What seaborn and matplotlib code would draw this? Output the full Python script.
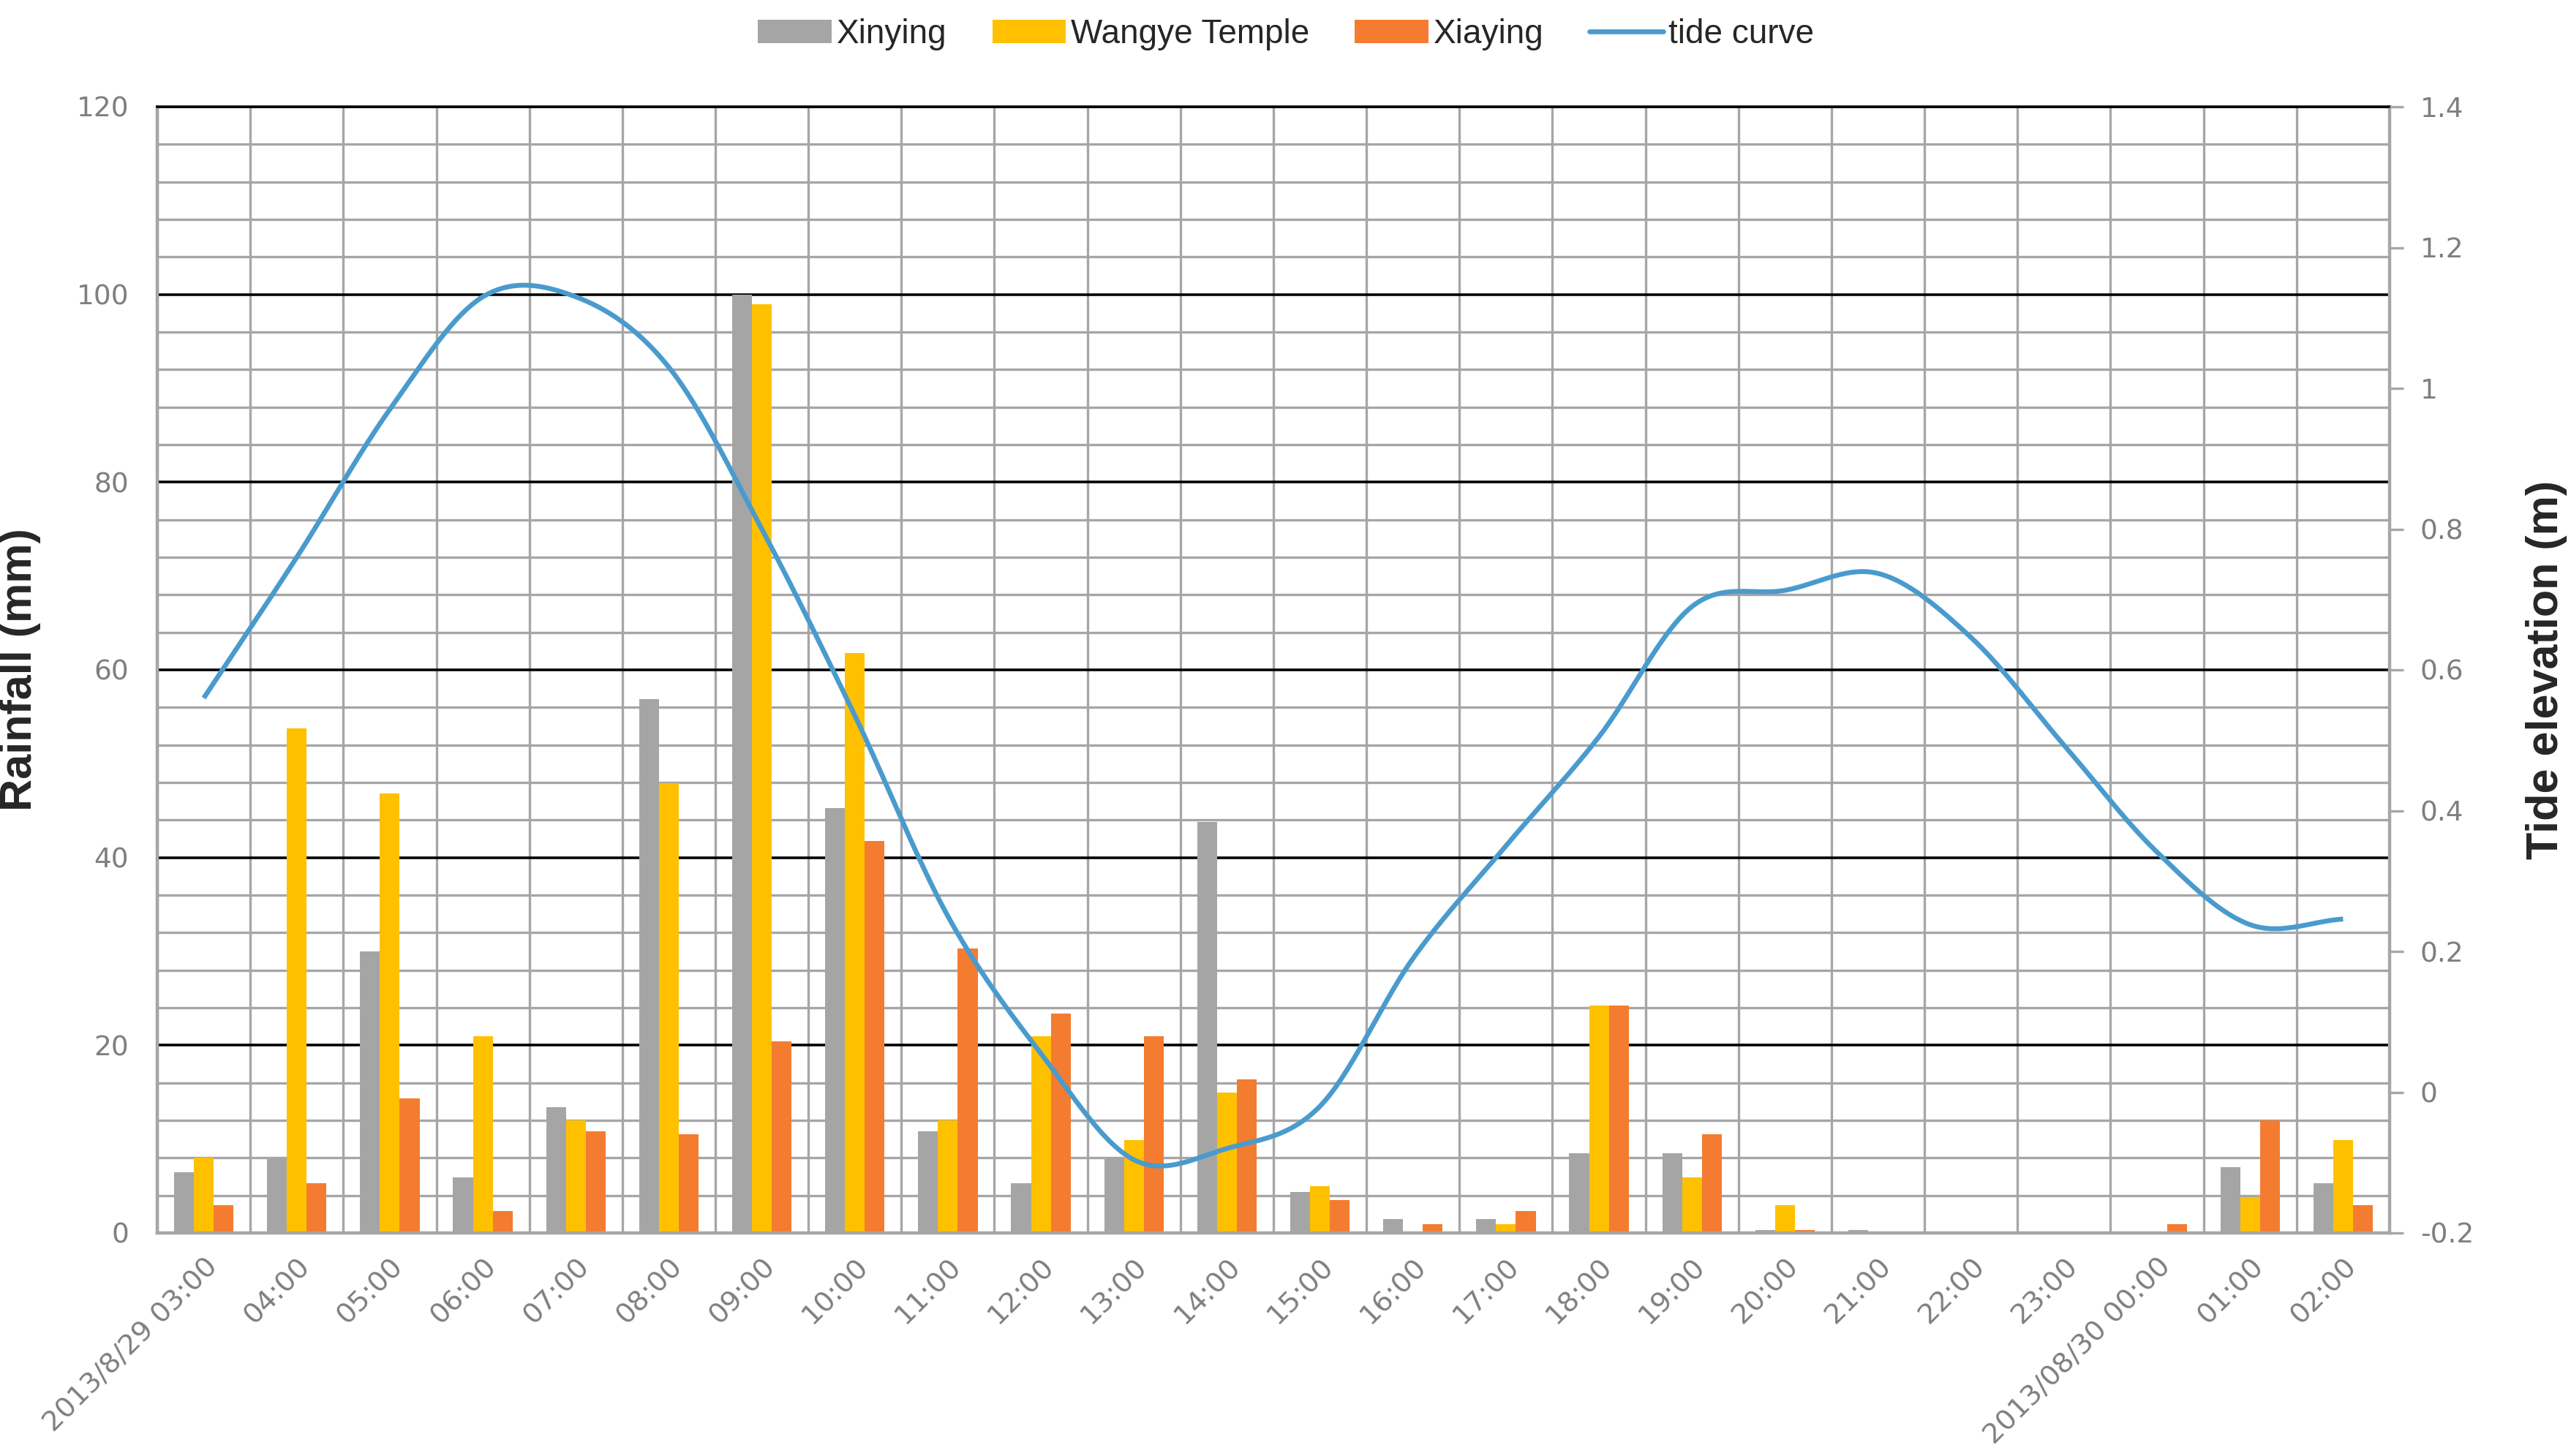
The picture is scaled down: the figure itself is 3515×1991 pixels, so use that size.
import numpy as np
import pandas as pd
import matplotlib
matplotlib.use("Agg")
import matplotlib.pyplot as plt
from matplotlib.ticker import MultipleLocator, FixedLocator
from matplotlib.patches import Patch
from matplotlib.lines import Line2D
import seaborn as sns

# ---------------- data ----------------
times = ["2013/8/29 03:00", "04:00", "05:00", "06:00", "07:00", "08:00", "09:00",
         "10:00", "11:00", "12:00", "13:00", "14:00", "15:00", "16:00", "17:00",
         "18:00", "19:00", "20:00", "21:00", "22:00", "23:00", "2013/08/30 00:00",
         "01:00", "02:00"]
xinying = [6.5, 8.0, 30.0, 5.9, 13.4, 56.9, 100.0, 45.3, 10.8, 5.3, 8.0, 43.8,
           4.4, 1.5, 1.5, 8.5, 8.5, 0.3, 0.3, 0, 0, 0, 7.0, 5.3]
wangye = [8.0, 53.8, 46.8, 21.0, 12.0, 47.9, 99.0, 61.8, 12.0, 21.0, 9.9, 15.0,
          5.0, 0, 0.9, 24.2, 5.9, 3.0, 0, 0, 0, 0, 3.8, 9.9]
xiaying = [3.0, 5.3, 14.3, 2.3, 10.8, 10.5, 20.4, 41.8, 30.3, 23.4, 21.0, 16.4,
           3.5, 0.9, 2.3, 24.2, 10.5, 0.3, 0, 0, 0, 0.9, 12.0, 3.0]
tide = [0.56, 0.76, 0.97, 1.13, 1.13, 1.03, 0.80, 0.535, 0.25, 0.055, -0.096,
        -0.08, -0.02, 0.19, 0.35, 0.505, 0.69, 0.713, 0.737, 0.646, 0.493,
        0.341, 0.238, 0.246]
stations = ["Xinying", "Wangye Temple", "Xiaying"]
colors = ["#A5A5A5", "#FFC000", "#F47C30"]
line_color = "#4A9BCD"

df = pd.DataFrame({
    "time": times * 3,
    "rain": xinying + wangye + xiaying,
    "station": [stations[0]] * len(times) + [stations[1]] * len(times) + [stations[2]] * len(times),
})

# ---------------- figure ----------------
sns.set_theme(style="white")
plt.rcParams["font.family"] = ["DejaVu Sans"]
LABEL_FONT = ["Liberation Sans", "DejaVu Sans"]
DPI = 200
fig = plt.figure(figsize=(3516 / DPI, 1991 / DPI), dpi=DPI)
ax = fig.add_axes([215 / 3516, 1 - 1686 / 1991, (3267 - 215) / 3516, (1686 - 146) / 1991])

sns.barplot(data=df, x="time", y="rain", hue="station", order=times,
            hue_order=stations, palette=colors, width=0.64, gap=0,
            saturation=1, ax=ax, legend=False, errorbar=None, linewidth=0)

n = len(times)
ax.set_xlim(-0.5, n - 0.5)
ax.set_ylim(0, 120)
ax.set_axisbelow(True)
ax.yaxis.set_major_locator(MultipleLocator(20))
ax.yaxis.set_minor_locator(MultipleLocator(4))
ax.xaxis.set_minor_locator(FixedLocator(np.arange(-0.5, n, 1.0)))
ax.grid(which="minor", axis="y", color="#A6A6A6", lw=1.2)
ax.grid(which="major", axis="y", color="black", lw=1.3)
ax.grid(which="minor", axis="x", color="#A6A6A6", lw=1.2)
ax.grid(which="major", axis="x", visible=False)

ax.set_xlabel("")
ax.set_ylabel("Rainfall (mm)", fontsize=22, fontweight="bold", family=LABEL_FONT)
ax.yaxis.set_label_coords(-0.052, 0.5)
ax.tick_params(axis="y", which="both", length=0, labelsize=13.5,
               labelcolor="#7F7F7F", pad=14)
ax.tick_params(axis="x", which="both", length=0, labelsize=13.8,
               labelcolor="#7F7F7F", pad=10)
ax.set_xticks(range(n))
ax.set_xticklabels(times, rotation=45, ha="right", rotation_mode="anchor")

for side in ["left", "bottom", "right"]:
    ax.spines[side].set_color("#A6A6A6")
    ax.spines[side].set_linewidth(1.6)
ax.spines["top"].set_color("black")
ax.spines["top"].set_linewidth(1.3)

# ---------------- tide curve (secondary axis) ----------------
ax2 = ax.twinx()
ax2.set_ylim(-0.2, 1.4)
ax2.set_yticks(np.round(np.arange(-0.2, 1.41, 0.2), 1))
ax2.set_yticklabels(["-0.2", "0", "0.2", "0.4", "0.6", "0.8", "1", "1.2", "1.4"])
ax2.tick_params(axis="y", length=7, width=1.2, color="#A6A6A6", labelsize=13.5,
                labelcolor="#7F7F7F", pad=8, direction="out")
for side in ["left", "bottom", "top", "right"]:
    ax2.spines[side].set_visible(False)
ax2.set_ylabel("Tide elevation (m)", fontsize=22, fontweight="bold",
               family=LABEL_FONT, rotation=90)
ax2.yaxis.set_label_coords(1.061, 0.5)
ax2.grid(False)

# smooth (Catmull-Rom) rendering through the hourly tide points
xs = np.arange(n, dtype=float)
ys = np.asarray(tide, dtype=float)
ext = np.concatenate([[2 * ys[0] - ys[1]], ys, [2 * ys[-1] - ys[-2]]])
sx, sy = [], []
tt = np.linspace(0, 1, 30, endpoint=False)
for i in range(n - 1):
    p0, p1, p2, p3 = ext[i], ext[i + 1], ext[i + 2], ext[i + 3]
    m1 = (p2 - p0) / 2
    m2 = (p3 - p1) / 2
    h00 = 2 * tt**3 - 3 * tt**2 + 1
    h10 = tt**3 - 2 * tt**2 + tt
    h01 = -2 * tt**3 + 3 * tt**2
    h11 = tt**3 - tt**2
    sy.extend(h00 * p1 + h10 * m1 + h01 * p2 + h11 * m2)
    sx.extend(xs[i] + tt)
sx.append(xs[-1]); sy.append(ys[-1])
ax2.plot(sx, sy, color=line_color, lw=2.4, solid_capstyle="butt")
ax2.set_xlim(-0.5, n - 0.5)

# ---------------- legend ----------------
handles = [Patch(facecolor=c, edgecolor="none") for c in colors]
handles.append(Line2D([0], [0], color=line_color, lw=2.4))
fig.legend(handles, stations + ["tide curve"], loc="center", ncol=4,
           bbox_to_anchor=(0.5, 1 - 47 / 1991), frameon=False,
           prop={"family": LABEL_FONT, "size": 16.5},
           handlelength=2.2, handleheight=0.7, handletextpad=0.15,
           columnspacing=1.35)

fig.savefig("out.png", dpi=DPI)
